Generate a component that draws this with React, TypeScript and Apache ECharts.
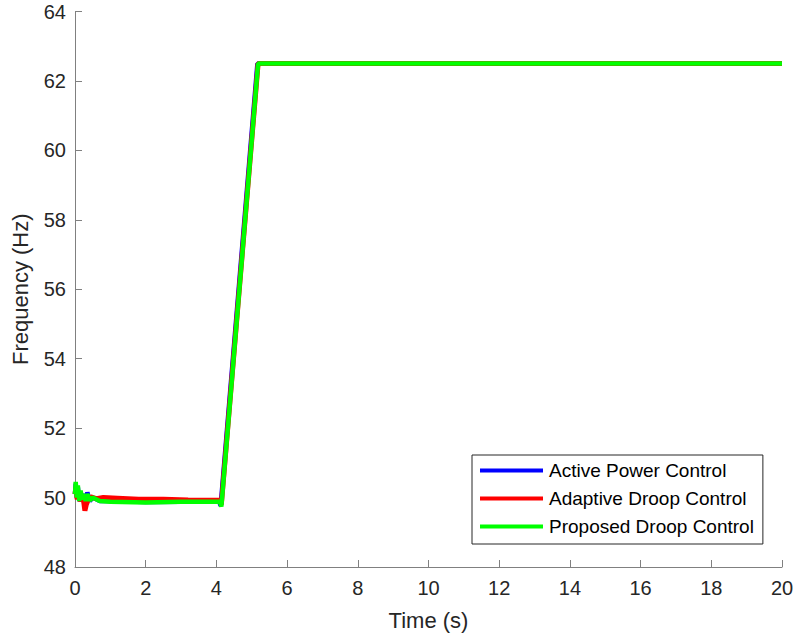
import React, { useEffect, useRef } from "react";
import * as echarts from "echarts";

const xTicks = [0, 2, 4, 6, 8, 10, 12, 14, 16, 18, 20];
const yTicks = [48, 50, 52, 54, 56, 58, 60, 62, 64];

const seriesNames = ["Active Power Control", "Adaptive Droop Control", "Proposed Droop Control"];
const seriesColors = ["#0000ff", "#ff0000", "#00ff00"];

const timeBlue = [0, 0.02, 0.05, 0.08, 0.12, 0.16, 0.2, 0.25, 0.3, 0.35, 0.42, 0.5, 0.7, 1, 2, 3, 4.08, 4.12, 5.16, 20];
const freqBlue = [50.1, 50.4, 50.0, 50.3, 49.9, 50.15, 49.95, 50.1, 49.9, 50.15, 49.9, 50.0, 49.9, 49.9, 49.87, 49.88, 49.88, 49.76, 62.5, 62.5];

const timeRed = [0, 0.03, 0.06, 0.1, 0.15, 0.2, 0.25, 0.28, 0.32, 0.38, 0.45, 0.6, 0.8, 1.2, 1.8, 2.5, 3.2, 4.1, 4.14, 5.18, 20];
const freqRed = [50.1, 50.3, 49.95, 50.1, 49.9, 50.0, 49.85, 49.62, 49.8, 49.95, 50.02, 49.97, 50.0, 49.98, 49.95, 49.95, 49.93, 49.92, 49.8, 62.5, 62.5];

const timeGreen = [0, 0.02, 0.05, 0.08, 0.12, 0.16, 0.2, 0.25, 0.3, 0.35, 0.42, 0.5, 0.7, 1, 2, 3, 4.1, 4.14, 5.18, 20];
const freqGreen = [50.1, 50.45, 50.0, 50.35, 49.9, 50.2, 49.95, 50.1, 49.9, 50.1, 49.92, 50.0, 49.9, 49.88, 49.86, 49.88, 49.88, 49.74, 62.5, 62.5];

const pairs = (t: number[], f: number[]) => t.map((v, i) => [v, f[i]]);

const FONT = "Liberation Sans, Arial, Helvetica, sans-serif";

export default function App() {
  const ref = useRef<HTMLDivElement>(null);
  useEffect(() => {
    if (!ref.current) return;
    const chart = echarts.init(ref.current, undefined, { renderer: "svg" });
    const data = [pairs(timeBlue, freqBlue), pairs(timeRed, freqRed), pairs(timeGreen, freqGreen)];
    chart.setOption({
      animation: false,
      backgroundColor: "#ffffff",
      textStyle: { fontFamily: FONT },
      grid: { left: 75, right: 16, top: 11.5, bottom: 72, containLabel: false, outerBoundsMode: "none" },
      legend: {
        orient: "vertical",
        left: 472,
        top: 455,
        backgroundColor: "#ffffff",
        borderColor: "#262626",
        borderWidth: 1,
        borderRadius: 0,
        padding: [6, 9, 8, 8],
        itemGap: 9,
        itemWidth: 63,
        itemHeight: 4,
        icon: "rect",
        textStyle: { fontSize: 19, color: "#000000", fontFamily: FONT, padding: [0, 0, 0, 1] },
        data: seriesNames,
      },
      xAxis: {
        type: "value",
        min: xTicks[0],
        max: xTicks[xTicks.length - 1],
        interval: 2,
        name: "Time (s)",
        nameLocation: "middle",
        nameGap: 42,
        nameTextStyle: { fontSize: 22, color: "#262626", fontFamily: FONT },
        axisLine: { show: true, onZero: false, lineStyle: { color: "#808080", width: 1 } },
        axisTick: { show: true, inside: true, length: 7, lineStyle: { color: "#808080" } },
        axisLabel: { fontSize: 20, color: "#262626", margin: 11, fontFamily: FONT },
        splitLine: { show: false },
      },
      yAxis: {
        type: "value",
        min: yTicks[0],
        max: yTicks[yTicks.length - 1],
        interval: 2,
        name: "Frequency (Hz)",
        nameLocation: "middle",
        nameGap: 44,
        nameTextStyle: { fontSize: 22, color: "#262626", fontFamily: FONT },
        axisLine: { show: true, onZero: false, lineStyle: { color: "#808080", width: 1 } },
        axisTick: { show: true, inside: true, length: 7, lineStyle: { color: "#808080" } },
        axisLabel: { fontSize: 20, color: "#262626", margin: 9, fontFamily: FONT },
        splitLine: { show: false },
      },
      series: seriesNames.map((name, i) => ({
        name,
        type: "line",
        data: data[i],
        showSymbol: false,
        symbol: "none",
        color: seriesColors[i],
        lineStyle: { color: seriesColors[i], width: i === 1 ? 5 : 4.5 },
        z: i + 2,
      })),
    });
    return () => chart.dispose();
  }, []);
  return <div ref={ref} style={{ width: 798, height: 639, position: "absolute", left: 0, top: 0 }} />;
}
